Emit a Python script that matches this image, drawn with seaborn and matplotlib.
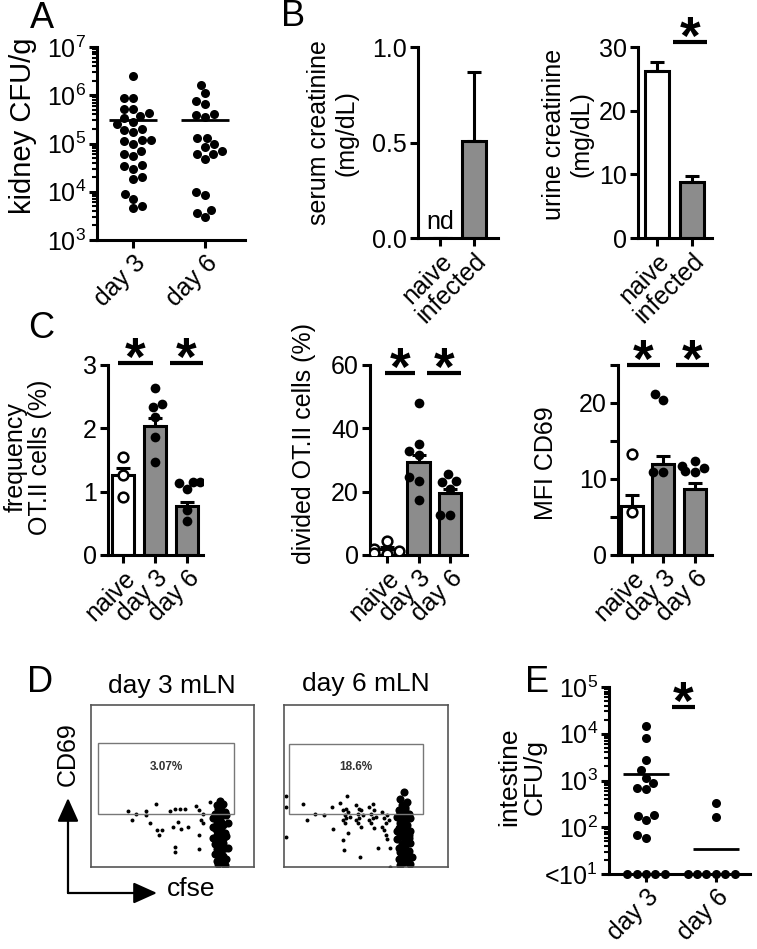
import numpy as np
import pandas as pd
import matplotlib
matplotlib.use("Agg")
import matplotlib.pyplot as plt
from matplotlib.patches import Rectangle, FancyArrowPatch
from matplotlib.ticker import LogLocator, NullFormatter
import seaborn as sns

# ---- values ----
# A: kidney CFU/g
A_groups = ["day 3", "day 6"]
A_day3 = [2.45e6, 8.9e5, 8.7e5, 5.2e5, 5.2e5, 4.2e5, 3.7e5, 3.3e5, 2.8e5, 2.5e5,
          2.0e5, 1.9e5, 1.7e5, 1.2e5, 1.2e5, 1.15e5, 1.0e5, 7.0e4, 6.2e4, 5.5e4,
          3.5e4, 3.4e4, 2.9e4, 2.0e4, 1.8e4, 9.0e3, 7.0e3, 5.1e3, 4.5e3]
A_day6 = [1.6e6, 1.1e6, 7.6e5, 6.5e5, 4.0e5, 3.9e5, 3.5e5, 1.3e5, 1.3e5, 1.0e5,
          8.5e4, 7.1e4, 6.2e4, 6.0e4, 4.7e4, 9.8e3, 8.5e3, 4.2e3, 3.7e3, 3.0e3]
A_median = [3.0e5, 3.0e5]
A_yticks = [1e3, 1e4, 1e5, 1e6, 1e7]
A_yticklabels = ["$10^3$", "$10^4$", "$10^5$", "$10^6$", "$10^7$"]

# B: creatinine
B_groups = ["naive", "infected"]
serum_mean = [0.0, 0.51]
serum_sem = [np.nan, 0.36]
urine_mean = [26.3, 8.8]
urine_sem = [1.3, 0.9]

# C: OT.II responses
C_groups = ["naive", "day 3", "day 6"]
freq_mean = [1.27, 2.04, 0.77]
freq_sem = [0.10, 0.12, 0.07]
freq_naive = [1.54, 1.26, 0.91]
freq_day3 = [2.63, 2.39, 2.33, 2.18, 1.87, 1.47]
freq_day6 = [1.16, 1.13, 1.16, 1.04, 0.71, 0.53]

div_mean = [1.8, 29.5, 19.5]
div_sem = [0.8, 2.0, 1.3]
div_naive = [4.3, 2.0, 1.2, 0.5, 0.2]
div_day3 = [48.1, 35.1, 33.0, 31.6, 24.5, 23.5, 17.4]
div_day6 = [25.6, 23.5, 22.9, 21.0, 12.6, 12.6]

mfi_mean = [6.4, 12.0, 8.65]
mfi_sem = [1.5, 1.0, 0.85]
mfi_naive = [13.3, 5.6]
mfi_day3 = [21.2, 20.4, 10.9, 10.9]
mfi_day6 = [12.4, 11.7, 11.5, 11.1, 10.9]

# D: flow plots (cfse, CD69 on a 0-100 display scale)
d3_events_x = [22.5, 24.9, 27.9, 33.5, 33.5, 36.2, 39.9, 40.3, 43.4, 41.9, 48.4, 51.5, 54.6, 57.7,
               50.5, 53.2, 55.3, 59.8, 51.5, 51.5, 64.4, 66.3, 67.5, 69.0, 66.3, 66.3, 69.0, 73.1]
d3_events_y = [34.8, 29.0, 33.0, 34.8, 32.0, 27.0, 38.9, 22.8, 22.8, 19.8, 34.8, 35.6, 36.0, 35.6,
               24.9, 28.0, 23.2, 24.9, 12.4, 9.3, 37.6, 35.0, 28.8, 27.2, 19.8, 11.0, 33.0, 40.2]
d3_cluster_x = [79, 77, 81, 78, 80, 76, 82, 79, 75, 83, 78, 80, 77, 81, 79, 76, 84, 78, 80, 82,
                77, 79, 75, 81, 83, 78, 80, 76, 79, 82, 77, 80, 78, 84, 76, 81, 79, 83, 77, 80,
                78, 82, 75, 79, 81, 77, 80, 78]
d3_cluster_y = [41, 38, 39, 36, 35, 33, 34, 31, 30, 32, 29, 28, 27, 26, 25, 24, 27, 22, 23, 21,
                20, 19, 18, 17, 19, 16, 15, 14, 13, 12, 11, 10, 9, 12, 8, 7, 6, 5, 4, 3,
                2, 1, 25, 30, 15, 22, 10, 34]
d6_events_x = [1.2, 1.2, 1.2, 11.4, 14.1, 18.8, 24.4, 29.0, 30.0, 34.0, 35.8, 36.5, 38.5, 39.0,
               46.3, 57.5, 64.8, 64.8,
               36, 37, 38, 39, 37, 40, 36, 38,
               44, 45, 46, 47, 45, 48, 46, 44, 47,
               52, 53, 54, 55, 53, 56, 54, 52, 55,
               60, 61, 62, 63, 61, 62, 64, 60, 63]
d6_events_y = [44, 37, 18.5, 38.9, 29, 33, 32, 37, 23.4, 39.7, 16.7, 10.5, 43.8, 20.8,
               6, 11.5, 11.5, 0.3,
               35, 32, 30, 34, 27, 31, 29, 36,
               38, 33, 30, 35, 27, 32, 36, 29, 25,
               37, 33, 30, 35, 27, 31, 39, 29, 24,
               34, 30, 27, 32, 23, 20, 29, 25, 17]
d6_cluster_x = [73, 71, 75, 72, 74, 70, 76, 73, 69, 77, 72, 74, 71, 75, 73, 70, 77, 72, 74, 76,
                71, 73, 69, 75, 77, 72, 74, 70, 73, 76, 71, 74, 72, 78, 70, 75, 73, 77, 71, 74,
                72, 76, 69, 73, 75, 71, 74, 72]
d6_cluster_y = [46, 42, 40, 38, 36, 35, 33, 34, 31, 30, 29, 28, 27, 26, 25, 24, 22, 23, 21, 20,
                19, 18, 17, 16, 15, 14, 13, 12, 11, 10, 9, 8, 7, 6, 5, 4, 3, 2, 1, 30,
                26, 18, 22, 14, 8, 33, 37, 28]
d3_gate = [4.3, 33.0, 87.7, 76.5]
d6_gate = [3.0, 32.7, 84.8, 75.9]
d3_pct, d6_pct = "3.07%", "18.6%"

# E: intestine CFU/g (10 = below detection)
E_groups = ["day 3", "day 6"]
E_day3 = [1.45e4, 8.3e3, 2.7e3, 1.7e3, 1.15e3, 870, 690, 650, 180, 175, 140, 68, 60,
          10, 10, 10, 10, 10]
E_day6 = [330, 165, 10, 10, 10, 10, 10, 10]
E_line = [1.4e3, 34]
E_yticks = [1e1, 1e2, 1e3, 1e4, 1e5]
E_yticklabels = ["<$10^1$", "$10^2$", "$10^3$", "$10^4$", "$10^5$"]

GRAY = "#8c8c8c"

sns.set_style("ticks")
plt.rcParams["font.family"] = ["Liberation Sans", "DejaVu Sans"]
plt.rcParams["mathtext.fontset"] = "custom"
plt.rcParams["mathtext.rm"] = "Liberation Sans"
plt.rcParams["mathtext.it"] = "Liberation Sans:italic"
plt.rcParams["mathtext.bf"] = "Liberation Sans:bold"
for k in ["axes.edgecolor", "xtick.color", "ytick.color", "text.color"]:
    plt.rcParams[k] = "black"

W, H = 757, 949
fig = plt.figure(figsize=(W / 100, H / 100), dpi=100)


def px_axes(l, t, r, b):
    return fig.add_axes([l / W, 1 - b / H, (r - l) / W, (b - t) / H])


def ftext(x, y, s, **kw):
    kw.setdefault("ha", "center")
    kw.setdefault("va", "center")
    fig.text(x / W, 1 - y / H, s, **kw)


def style(ax, fs=18):
    sns.despine(ax=ax)
    for s in ("left", "bottom"):
        ax.spines[s].set_linewidth(2.2)
    ax.tick_params(axis="both", which="major", width=2.2, length=6, labelsize=fs, pad=2)
    ax.set_xlabel("")
    ax.set_ylabel("")


def rot(ax, groups, fs=18):
    ax.set_xticks(range(len(groups)))
    ax.set_xticklabels(groups, rotation=45, ha="right", va="top",
                       rotation_mode="anchor", fontsize=fs)


def long_df(groups, lists):
    return pd.DataFrame({"group": np.repeat(groups, [len(v) for v in lists]),
                         "value": np.concatenate(lists)})


def bar_panel(ax, groups, means, sems, colors):
    df = pd.DataFrame({"group": groups, "mean": means})
    sns.barplot(data=df, x="group", y="mean", hue="group", order=groups, hue_order=groups,
                palette=dict(zip(groups, colors)), width=0.7, edgecolor="black",
                linewidth=2.2, errorbar=None, legend=False, ax=ax, zorder=2)
    ax.errorbar(np.arange(len(groups)), means, yerr=[np.zeros(len(groups)), sems],
                fmt="none", ecolor="black", elinewidth=2.2, capsize=5, capthick=2.2, zorder=3)


def add_points(ax, groups, lists, size=7):
    df = long_df(groups, lists)
    op = df[df.group == "naive"]
    fl = df[df.group != "naive"]
    if len(op):
        sns.swarmplot(data=op, x="group", y="value", order=groups, color="white",
                      edgecolor="black", linewidth=1.8, size=size, ax=ax, zorder=4)
    sns.swarmplot(data=fl, x="group", y="value", order=groups, color="black",
                  size=size, ax=ax, zorder=4)


def sig(ax, x0, x1, y):
    ax.plot([x0, x1], [y, y], color="black", lw=3, clip_on=False, solid_capstyle="butt")
    ax.annotate("*", xy=((x0 + x1) / 2, y), xytext=(0, -8.5), textcoords="offset points",
                ha="center", va="baseline", fontsize=38, fontweight="bold",
                annotation_clip=False)


# ---- A ----
axA = px_axes(97, 47, 245, 240)
axA.set_yscale("log")
sns.swarmplot(data=long_df(A_groups, [A_day3, A_day6]), x="group", y="value",
              order=A_groups, color="black", size=6.5, ax=axA)
axA.hlines(A_median, np.arange(2) - 0.33, np.arange(2) + 0.33, color="black", lw=2)
style(axA)
axA.set_ylim(1e3, 1e7)
axA.set_xlim(-0.5, 1.55)
axA.set_yticks(A_yticks)
axA.set_yticklabels(A_yticklabels)
axA.yaxis.set_minor_locator(LogLocator(base=10, subs=np.arange(2, 10), numticks=20))
axA.yaxis.set_minor_formatter(NullFormatter())
axA.tick_params(axis="y", which="minor", length=3.5, width=1.5)
rot(axA, A_groups)

# ---- B ----
axB1 = px_axes(418, 47, 498, 238)
bar_panel(axB1, B_groups, serum_mean, serum_sem, ["white", GRAY])
style(axB1)
axB1.set_ylim(0, 1)
axB1.set_xlim(-0.65, 1.7)
axB1.set_yticks([0, 0.5, 1.0])
axB1.yaxis.set_major_formatter("{x:.1f}")
axB1.text(0, 0.02, "nd", ha="center", va="bottom", fontsize=18)
rot(axB1, B_groups)

axB2 = px_axes(638, 47, 712, 238)
bar_panel(axB2, B_groups, urine_mean, urine_sem, ["white", GRAY])
style(axB2)
axB2.set_ylim(0, 30)
axB2.set_xlim(-0.54, 1.57)
axB2.set_yticks([0, 10, 20, 30])
rot(axB2, B_groups)
sig(axB2, 0.46, 1.43, 30.8)

# ---- C ----
C_cols = ["white", GRAY, GRAY]
axC1 = px_axes(108, 365, 203, 555)
bar_panel(axC1, C_groups, freq_mean, freq_sem, C_cols)
add_points(axC1, C_groups, [freq_naive, freq_day3, freq_day6])
style(axC1)
axC1.set_ylim(0, 3)
axC1.set_xlim(-0.47, 2.5)
axC1.set_yticks([0, 1, 2, 3])
rot(axC1, C_groups)
sig(axC1, -0.16, 0.94, 3.03)
sig(axC1, 1.47, 2.5, 3.03)

axC2 = px_axes(370, 365, 467, 555)
bar_panel(axC2, C_groups, div_mean, div_sem, C_cols)
add_points(axC2, C_groups, [div_naive, div_day3, div_day6])
style(axC2)
axC2.set_ylim(0, 60)
axC2.set_xlim(-0.54, 2.54)
axC2.set_yticks([0, 20, 40, 60])
rot(axC2, C_groups)
sig(axC2, -0.06, 0.89, 57.5)
sig(axC2, 1.27, 2.35, 57.5)

axC3 = px_axes(618, 365, 712, 555)
bar_panel(axC3, C_groups, mfi_mean, mfi_sem, C_cols)
add_points(axC3, C_groups, [mfi_naive, mfi_day3, mfi_day6])
style(axC3)
axC3.set_ylim(0, 25)
axC3.set_xlim(-0.44, 2.54)
axC3.set_yticks([0, 5, 10, 15, 20, 25])
axC3.set_yticklabels(["0", "", "10", "", "20", ""])
rot(axC3, C_groups)
sig(axC3, -0.16, 0.89, 25)
sig(axC3, 1.4, 2.44, 25)


# ---- D ----
def flow_panel(l, r, ex, ey, cx, cy, gate, pct):
    ax = px_axes(l, 705, r, 867)
    sns.scatterplot(x=ex, y=ey, s=8, color="black", linewidth=0, ax=ax)
    sns.scatterplot(x=cx, y=cy, s=34, color="black", linewidth=0, ax=ax)
    ax.add_patch(Rectangle((gate[0], gate[1]), gate[2] - gate[0], gate[3] - gate[1],
                           fill=False, edgecolor="#777777", lw=1.0))
    ax.text((gate[0] + gate[2]) / 2, 62, pct, ha="center", va="center",
            fontsize=8.5, fontweight="bold", color="#333333")
    ax.set_xlim(0, 100)
    ax.set_ylim(0, 100)
    ax.set_xticks([])
    ax.set_yticks([])
    for s in ax.spines.values():
        s.set_color("#555555")
        s.set_linewidth(1.2)
    return ax


flow_panel(91, 254, d3_events_x, d3_events_y, d3_cluster_x, d3_cluster_y, d3_gate, d3_pct)
flow_panel(284, 448, d6_events_x, d6_events_y, d6_cluster_x, d6_cluster_y, d6_gate, d6_pct)
ftext(172, 686, "day 3 mLN", fontsize=19)
ftext(366, 684, "day 6 mLN", fontsize=19)
ftext(68, 754, "CD69", rotation=90, fontsize=18)
ftext(191, 889, "cfse", fontsize=19)
for end in [(68, 798), (157, 893)]:
    fig.add_artist(FancyArrowPatch((68 / W, 1 - 893 / H), (end[0] / W, 1 - end[1] / H),
                                   transform=fig.transFigure, color="black", lw=1.6,
                                   arrowstyle="-|>,head_length=0.8,head_width=0.36",
                                   mutation_scale=18, shrinkA=0, shrinkB=0))

# ---- E ----
axE = px_axes(609, 687, 750, 874)
axE.set_yscale("log")
sns.swarmplot(data=long_df(E_groups, [E_day3, E_day6]), x="group", y="value",
              order=E_groups, color="black", size=6.5, ax=axE, zorder=4)
for c in axE.collections:
    c.set_clip_on(False)
axE.hlines(E_line, np.arange(2) - 0.33, np.arange(2) + 0.33, color="black", lw=2)
style(axE)
axE.set_ylim(10, 1e5)
axE.set_xlim(-0.53, 1.49)
axE.set_yticks(E_yticks)
axE.set_yticklabels(E_yticklabels)
axE.yaxis.set_minor_locator(LogLocator(base=10, subs=np.arange(2, 10), numticks=20))
axE.yaxis.set_minor_formatter(NullFormatter())
axE.tick_params(axis="y", which="minor", length=3.5, width=1.5)
rot(axE, E_groups)
sig(axE, 0.37, 0.70, 3.7e4)

# ---- axis titles and panel letters ----
ftext(23, 126, "kidney CFU/g", rotation=90, fontsize=21)
ftext(333, 133, "serum creatinine\n(mg/dL)", rotation=90, fontsize=18, linespacing=1.2)
ftext(568, 134, "urine creatinine\n(mg/dL)", rotation=90, fontsize=18, linespacing=1.2)
ftext(28, 457, "frequency\nOT.II cells (%)", rotation=90, fontsize=18, linespacing=1.05)
ftext(304, 443, "divided OT.II cells (%)", rotation=90, fontsize=18)
ftext(546, 463, "MFI CD69", rotation=90, fontsize=18)
ftext(522, 777, "intestine\nCFU/g", rotation=90, fontsize=19, linespacing=1.1)
for x, y, s in [(42, 19, "A"), (293, 17, "B"), (41, 328, "C"), (40, 682, "D"), (537, 682, "E")]:
    ftext(x, y, s, fontsize=26)

fig.savefig("out.png", dpi=100)
